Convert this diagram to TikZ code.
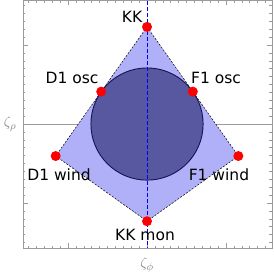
\documentclass[tikz,border=0pt]{standalone}
\usepackage{fontspec}
\newfontfamily\plotfont{DejaVu Sans}
\usetikzlibrary{positioning}
\definecolor{regionblue}{RGB}{176,176,248}
\definecolor{discblue}{RGB}{88,88,160}
\definecolor{discedge}{RGB}{20,20,80}
\definecolor{framegray}{RGB}{155,155,155}

\begin{document}
\begin{tikzpicture}[
  x=7.9pt, y=7.9pt,
  font=\plotfont\fontsize{15.5}{18}\selectfont,
  dot/.style={circle, fill=red, inner sep=0pt, minimum size=10pt},
  lbl/.style={inner sep=0pt},
  axlbl/.style={text=gray, inner sep=0pt, font=\fontsize{15}{17}\selectfont},
  tk/.style={framegray, line width=0.5pt},
  region/.style={fill=regionblue, draw=black, line width=0.5pt,
                 dash pattern=on 2pt off 1.5pt},
  disc/.style={fill=discblue, draw=discedge, line width=0.9pt},
  sym/.style={blue, line width=0.8pt, dash pattern=on 4pt off 2pt}
]
\useasboundingbox (-18.61,-19.49) rectangle (15.95,15.70);

% ---- frame, ticks, horizontal axis ----
\coordinate (fsw) at (-15.7,-15.7);
\coordinate (fne) at (15.8,15.62);
\draw[tk] (fsw) rectangle (fne);
\foreach \k in {-15,...,15}{
  \pgfmathsetmacro\len{ifthenelse(mod(\k,10)==0,0.6,0.3)}
  \draw[tk] (\k,-15.7) -- ++(0,\len);
  \draw[tk] (\k,15.62) -- ++(0,-\len);
  \draw[tk] (-15.7,\k) -- ++(\len,0);
  \draw[tk] (15.8,\k)  -- ++(-\len,0);
}
\coordinate (hl) at (-15.7,0);
\coordinate (hr) at (15.8,0);
\draw[framegray, line width=0.7pt] (hl) -- (hr);

% ---- region and disc ----
\coordinate (kkc)  at (0,12.3);
\coordinate (f1wc) at (11.56,-4.05);
\coordinate (kkmc) at (0,-12.3);
\coordinate (d1wc) at (-11.56,-4.05);
\draw[region] (kkc) -- (f1wc) -- (kkmc) -- (d1wc) -- cycle;
\draw[disc] (0,0) circle (7.1);

\coordinate (vt) at (0,15.62);
\coordinate (vb) at (0,-15.7);
\draw[sym] (vt) -- (vb);

% ---- points ----
\node[dot] (kk)  at (kkc)  {};
\node[dot] (d1o) at (-5.8,4.1) {};
\node[dot] (f1o) at (5.8,4.1)  {};
\node[dot] (d1w) at (d1wc) {};
\node[dot] (f1w) at (f1wc) {};
\node[dot] (kkm) at (kkmc) {};

% ---- labels ----
\node[lbl] (kklbl)  at (-1.9,13.54)   {KK};
\node[lbl] (d1olbl) at (-9.49,5.82)   {D1 osc};
\node[lbl] (f1olbl) at (8.73,5.82)    {F1 osc};
\node[lbl] (d1wlbl) at (-11.14,-6.46) {D1 wind};
\node[lbl] (f1wlbl) at (9.11,-6.46)   {F1 wind};
\node[lbl] (kkmlbl) at (-0.25,-14.05) {KK mon};
\node[axlbl] (rholbl) at (-17.34,0)   {$\zeta_\rho$};
\node[axlbl] (philbl) at (0,-17.85)   {$\zeta_\phi$};
\end{tikzpicture}
\end{document}
